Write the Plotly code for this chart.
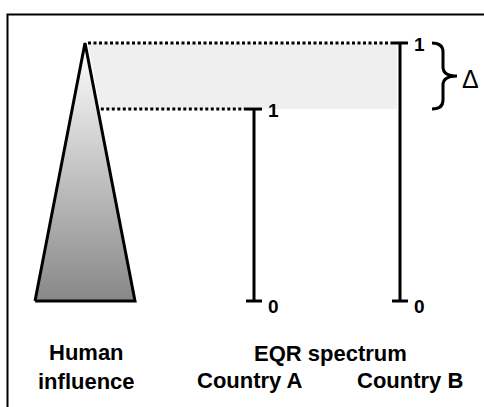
import plotly.graph_objects as go

# ---- data ----
categories = ["Country A", "Country B"]
eqr_min = [0.0, 0.0]
eqr_max = [0.744, 1.0]          # top of each EQR spectrum on the shared human-influence scale
tick_labels_min = ["0", "0"]
tick_labels_max = ["1", "1"]
influence_levels = [0.0, 1.0]   # human influence: base -> apex
header_labels = ["Human<br>influence", "EQR spectrum"]
delta_label = "Δ"

# ---- layout constants (positions, in x-axis units) ----
W, H = 484, 407
cat_x = [254, 400]
tri_x = 85
tri_half = 50
tick_half = 8
Y0_PX, Y1_PX = 301, 43          # pixel rows of level 0 and 1
scale = Y0_PX - Y1_PX
y_top = Y0_PX / scale
y_bot = (Y0_PX - H) / scale

FONT = "Liberation Sans, Arial, sans-serif"

fig = go.Figure()

# shaded delta band between country A max and country B max
lo, hi = min(eqr_max), max(eqr_max)
edge_hi = tri_x + tri_half * (1 - hi) / (influence_levels[1] - influence_levels[0])
edge_lo = tri_x + tri_half * (1 - lo) / (influence_levels[1] - influence_levels[0])
fig.add_trace(go.Scatter(
    x=[edge_hi + 3, cat_x[1] - 3, cat_x[1] - 3, edge_lo + 3, edge_hi + 3],
    y=[hi, hi, lo, lo, hi],
    fill="toself", fillcolor="#efefef", mode="lines",
    line=dict(width=0, color="rgba(0,0,0,0)"), hoverinfo="skip"))

# human influence triangle with vertical gradient
fig.add_trace(go.Scatter(
    x=[tri_x - tri_half, tri_x, tri_x + tri_half, tri_x - tri_half],
    y=[influence_levels[0], influence_levels[1], influence_levels[0], influence_levels[0]],
    mode="lines", fill="toself",
    fillgradient=dict(type="vertical",
                      colorscale=[[0, "#888888"], [1, "#ffffff"]],
                      start=influence_levels[0], stop=influence_levels[1]),
    line=dict(color="black", width=3), hoverinfo="skip"))

# dotted connector lines from triangle to the top of each spectrum
for cx, top in zip(cat_x, eqr_max):
    ex = tri_x + tri_half * (1 - top) + 3
    fig.add_trace(go.Scatter(
        x=[ex, cx - tick_half], y=[top, top], mode="lines",
        line=dict(color="black", width=3, dash="3px,2.5px"), hoverinfo="skip"))

# EQR spectrum bars with end ticks
for cx, mn, mx in zip(cat_x, eqr_min, eqr_max):
    fig.add_trace(go.Scatter(
        x=[cx - tick_half, cx + tick_half, None, cx, cx, None, cx - tick_half, cx + tick_half],
        y=[mx, mx, None, mx, mn, None, mn, mn],
        mode="lines", line=dict(color="black", width=3), hoverinfo="skip"))

annotations = []
for cx, mn, mx, tmin, tmax in zip(cat_x, eqr_min, eqr_max, tick_labels_min, tick_labels_max):
    annotations.append(dict(x=cx + 12, y=mx, text=f"<b>{tmax}</b>", showarrow=False,
                            xanchor="left", yanchor="middle", yshift=-1,
                            font=dict(family=FONT, size=19, color="black")))
    annotations.append(dict(x=cx + 12, y=mn, text=f"<b>{tmin}</b>", showarrow=False,
                            xanchor="left", yanchor="middle", yshift=-5,
                            font=dict(family=FONT, size=19, color="black")))

# bottom labels
px2y = lambda p: (Y0_PX - p) / scale
annotations.append(dict(x=tri_x + 1, y=px2y(367), text=f"<b>{header_labels[0]}</b>",
                        showarrow=False, xanchor="center", yanchor="middle",
                        font=dict(family=FONT, size=22, color="black")))
annotations.append(dict(x=sum(cat_x) / 2 + 3, y=px2y(353), text=f"<b>{header_labels[1]}</b>",
                        showarrow=False, xanchor="center", yanchor="middle",
                        font=dict(family=FONT, size=22, color="black")))
for cx, name, dx in zip(cat_x, categories, [-4, 10]):
    annotations.append(dict(x=cx + dx, y=px2y(380), text=f"<b>{name}</b>",
                            showarrow=False, xanchor="center", yanchor="middle",
                            font=dict(family=FONT, size=22, color="black")))

# delta symbol
annotations.append(dict(x=470, y=(lo + hi) / 2, text=delta_label, showarrow=False,
                        xanchor="center", yanchor="middle", yshift=-3,
                        font=dict(family=FONT, size=25, color="black")))

# curly brace spanning the delta band
bx0, bx1, btip = 432, 443, 457
mid = (lo + hi) / 2
r = 9 / scale
brace = (f"M {bx0} {hi} Q {bx1} {hi} {bx1} {hi - r} "
         f"L {bx1} {mid + r} Q {bx1} {mid} {btip} {mid} "
         f"Q {bx1} {mid} {bx1} {mid - r} "
         f"L {bx1} {lo + r} Q {bx1} {lo} {bx0} {lo}")
shapes = [
    dict(type="path", path=brace, xref="x", yref="y",
         line=dict(color="black", width=3)),
    # frame
    dict(type="rect", xref="x", yref="y", x0=7.5, x1=W + 10,
         y0=px2y(14.5), y1=px2y(H + 10), line=dict(color="black", width=2),
         fillcolor="rgba(0,0,0,0)", layer="below"),
]

fig.update_layout(
    width=W, height=H, margin=dict(l=0, r=0, t=0, b=0),
    paper_bgcolor="white", plot_bgcolor="white", showlegend=False,
    xaxis=dict(range=[0, W], visible=False, fixedrange=True),
    yaxis=dict(range=[y_bot, y_top], visible=False, fixedrange=True),
    annotations=annotations, shapes=shapes,
)

fig.write_html("out.html", config={"displayModeBar": False},
               post_script="document.body.style.margin='0';document.body.style.overflow='hidden';")
